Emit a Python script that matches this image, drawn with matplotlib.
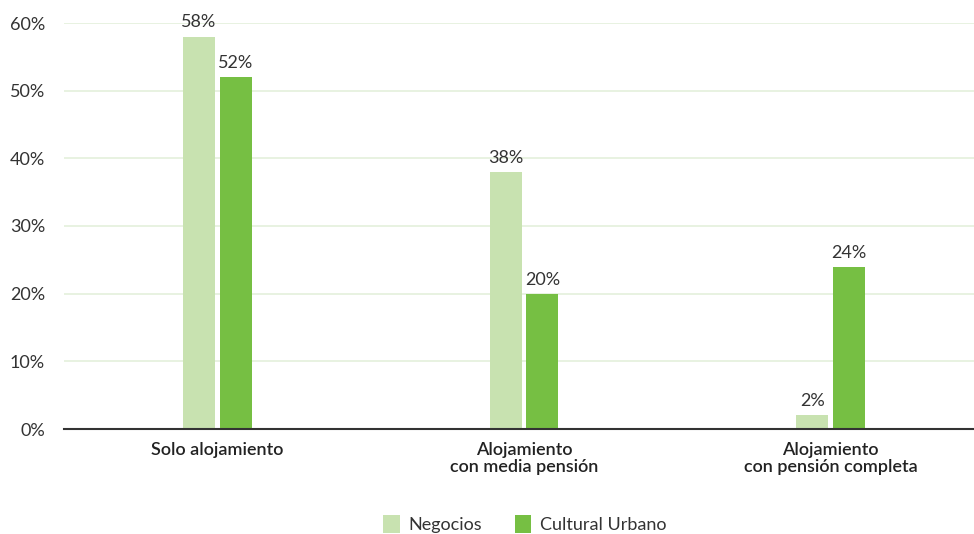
import matplotlib
matplotlib.use("Agg")
import matplotlib.pyplot as plt
import numpy as np

categories = ["Solo alojamiento", "Alojamiento\ncon media pensión", "Alojamiento\ncon pensión completa"]
negocios = [58, 38, 2]
cultural = [52, 20, 24]
yticks = [0, 10, 20, 30, 40, 50, 60]

plt.rcParams['font.family'] = ['Lato', 'DejaVu Sans']

fig = plt.figure(figsize=(9.74, 5.34), dpi=100)
# plot area runs slightly past the right edge of the canvas
ax = fig.add_axes([64/974, 1 - 429/534, (984 - 64)/974, (429 - 23)/534])

x = np.arange(len(categories))
w = 0.104
gap = 0.016
c_light = "#c8e2b0"
c_dark = "#76bf43"
fs = 13

b1 = ax.bar(x - w/2 - gap/2, negocios, width=w, color=c_light, label="Negocios", zorder=3)
b2 = ax.bar(x + w/2 + gap/2, cultural, width=w, color=c_dark, label="Cultural Urbano", zorder=3)

for bars, vals in ((b1, negocios), (b2, cultural)):
    for r, v in zip(bars, vals):
        ax.text(r.get_x() + r.get_width()/2, v + 0.9, f"{v}%", ha="center", va="bottom",
                fontsize=fs, color="#333333", zorder=4)

ax.set_xlim(-0.5, 2.5)
ax.set_ylim(0, 60)
ax.set_yticks(yticks)
ax.set_yticklabels([f"{t}%" for t in yticks], fontsize=fs, color="#333333")
ax.set_xticks(x)
ax.set_xticklabels(categories, fontsize=fs, color="#222222", fontweight="semibold", linespacing=1.15)
ax.tick_params(axis="both", length=0)
ax.tick_params(axis="y", pad=13.7)
ax.tick_params(axis="x", pad=9)
ax.grid(axis="y", color="#e4f0dc", linewidth=1.2, zorder=0)
for s in ("top", "right", "left"):
    ax.spines[s].set_visible(False)
ax.spines["bottom"].set_color("#333333")
ax.spines["bottom"].set_linewidth(1.5)
ax.spines["bottom"].set_zorder(5)

fig.legend(handles=[b1, b2], loc="center", bbox_to_anchor=(525/974, 1 - 524/534), ncol=2,
           frameon=False, fontsize=fs, handlelength=0.9, handleheight=1.2,
           handletextpad=0.5, columnspacing=1.8, labelcolor="#333333")

fig.savefig("out.png", dpi=100)
